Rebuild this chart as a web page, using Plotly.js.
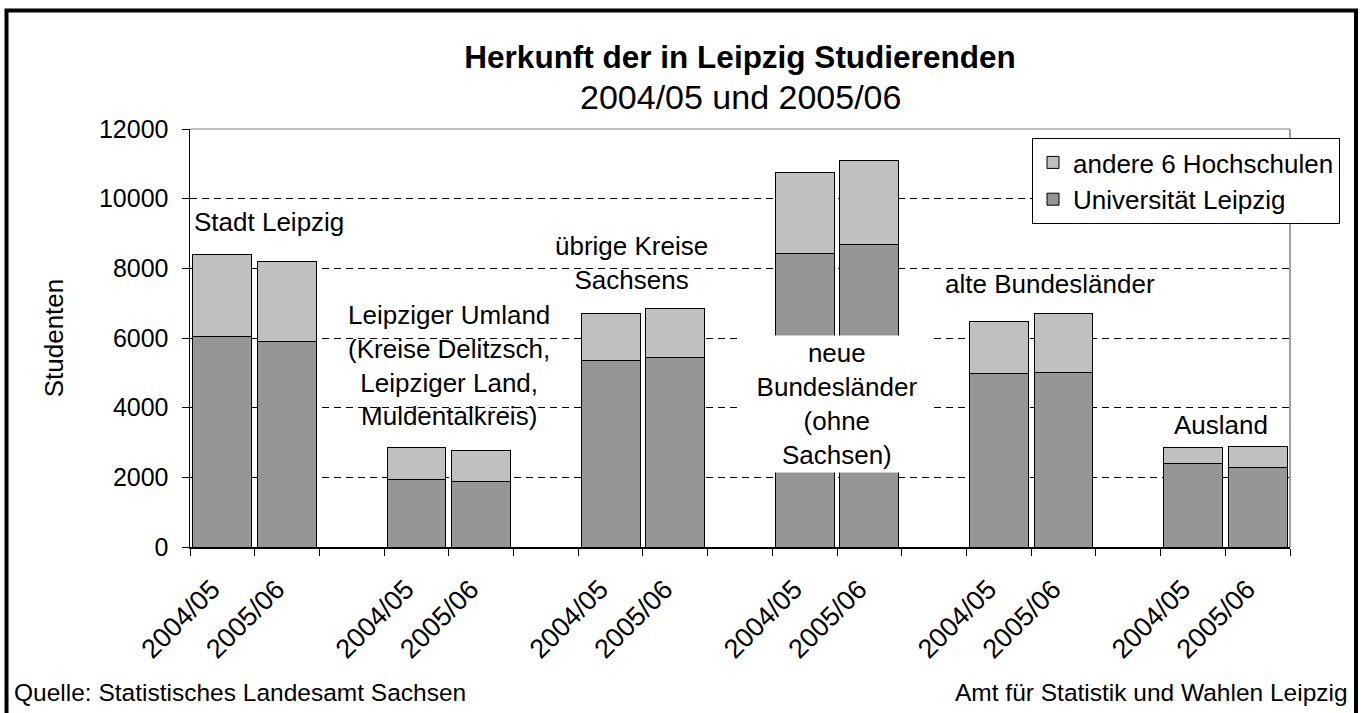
<!DOCTYPE html>
<html>
<head>
<meta charset="utf-8">
<script src="https://cdn.plot.ly/plotly-3.0.1.min.js"></script>
<style>html,body{margin:0;padding:0;background:#fff;}#chart{width:1362px;height:713px;}</style>
</head>
<body>
<div id="chart"></div>
<script>
// ---- data ----
const regions = ["Stadt Leipzig", "Leipziger Umland", "übrige Kreise Sachsens", "neue Bundesländer", "alte Bundesländer", "Ausland"];
const years = ["2004/05", "2005/06"];
const uniLeipzig = [[6050, 5910], [1940, 1870], [5350, 5430], [8430, 8690], [4990, 5010], [2400, 2270]];
const andere = [[2350, 2290], [920, 910], [1360, 1430], [2320, 2410], [1480, 1680], [470, 610]];
const regionLabels = [
  "Stadt Leipzig",
  "Leipziger Umland<br>(Kreise Delitzsch,<br>Leipziger Land,<br>Muldentalkreis)",
  "übrige Kreise<br>Sachsens",
  "neue<br>Bundesländer<br>(ohne<br>Sachsen)",
  "alte Bundesländer",
  "Ausland"
];
const yTicks = [0, 2000, 4000, 6000, 8000, 10000, 12000];
const yTickText = ["0", "2000", "4000", "6000", "8000", "10000", "12000"];

// ---- layout helpers ----
const FONT = "Liberation Sans, Arial, sans-serif";
const slotsPerGroup = years.length + 1;
const nSlots = regions.length * slotsPerGroup - 1;
const xs = [], ticktext = [], uniVals = [], andVals = [];
regions.forEach((r, g) => {
  years.forEach((yr, k) => {
    xs.push(g * slotsPerGroup + k);
    ticktext.push(yr);
    uniVals.push(uniLeipzig[g][k]);
    andVals.push(andere[g][k]);
  });
});
const boundaries = [];
for (let i = 0; i <= nSlots; i++) boundaries.push(i - 0.5);
const labelShift = 0.16; // rotated labels sit slightly left of the bar centre

const traces = [
  {type: "bar", name: "Universität Leipzig", x: xs, y: uniVals, width: 0.91,
   marker: {color: "#969696", line: {color: "#000", width: 1}}, legendgroup: "a", hoverinfo: "y"},
  {type: "bar", name: "andere 6 Hochschulen", x: xs, y: andVals, width: 0.91,
   marker: {color: "#c0c0c0", line: {color: "#000", width: 1}}, legendgroup: "b", hoverinfo: "y"},
  {type: "scatter", x: xs, y: xs.map(() => 0), xaxis: "x2", mode: "none", showlegend: false, hoverinfo: "skip"}
];

const labelPos = [
  {x: -0.47, y: 9330, xa: "left"},
  {x: 3.5, y: 5225, xa: "center"},
  {x: 6.33, y: 8150, xa: "center"},
  {x: 9.5, y: 4105, xa: "center", box: true},
  {x: 12.79, y: 7550, xa: "center"},
  {x: 15.43, y: 3500, xa: "center"}
];
const annotations = regionLabels.map((t, i) => {
  const p = labelPos[i];
  const a = {text: t, x: p.x, y: p.y, xref: "x", yref: "y", xanchor: p.xa, yanchor: "middle",
    showarrow: false, font: {family: FONT, size: 26, color: "#000"}, align: "center"};
  if (p.box) { a.bgcolor = "#fff"; a.width = 190; a.height = 134; a.valign = "middle"; }
  return a;
});
annotations.push(
  {text: "2004/05 und 2005/06", xref: "paper", yref: "paper", x: 0.5, y: (547 - 97) / 418,
   xanchor: "center", yanchor: "middle", showarrow: false, font: {family: FONT, size: 34, color: "#000"}},
  {text: "Quelle: Statistisches Landesamt Sachsen", xref: "paper", yref: "paper",
   x: (12 - 190) / 1100, y: (547 - 692) / 418, xanchor: "left", yanchor: "middle", showarrow: false,
   font: {family: FONT, size: 24.5, color: "#000"}},
  {text: "Amt für Statistik und Wahlen Leipzig", xref: "paper", yref: "paper",
   x: (1350 - 190) / 1100, y: (547 - 692) / 418, xanchor: "right", yanchor: "middle", showarrow: false,
   font: {family: FONT, size: 24.5, color: "#000"}}
);

const layout = {
  width: 1362, height: 713,
  margin: {l: 190, r: 72, t: 129, b: 166},
  paper_bgcolor: "#fff", plot_bgcolor: "#fff",
  font: {family: FONT, size: 26, color: "#000"},
  barmode: "stack",
  title: {text: "<b>Herkunft der in Leipzig Studierenden</b>", font: {family: FONT, size: 31.5, color: "#000"},
    xref: "paper", x: 0.5, xanchor: "center", yref: "container", y: 1 - 57 / 713, yanchor: "middle"},
  xaxis: {range: [-0.5, nSlots - 0.5], tickmode: "array", tickvals: boundaries, showticklabels: false,
    ticks: "outside", ticklen: 7, tickcolor: "#000", tickwidth: 1, showgrid: false, zeroline: false,
    showline: true, linecolor: "#000", linewidth: 1.5, fixedrange: true},
  xaxis2: {overlaying: "x", anchor: "y", side: "bottom", range: [-0.5 + labelShift, nSlots - 0.5 + labelShift],
    tickmode: "array", tickvals: xs, ticktext: ticktext, tickangle: -45, ticks: "", showgrid: false,
    zeroline: false, showline: false, ticklabelstandoff: 20, tickfont: {family: FONT, size: 27, color: "#000"}},
  yaxis: {range: [0, 12000], tickmode: "array", tickvals: yTicks, ticktext: yTickText, ticks: "outside", ticklen: 7,
    tickcolor: "#000", showline: true, linecolor: "#000", linewidth: 1.5, zeroline: false,
    showgrid: true, gridcolor: "#000", gridwidth: 1, griddash: "7px,5px",
    ticklabelstandoff: 8, tickfont: {family: FONT, size: 25, color: "#000"},
    title: {text: "Studenten", font: {family: FONT, size: 26, color: "#000"}, standoff: 28}},
  legend: {x: (1032 - 190) / 1100, y: (547 - 138) / 418, xanchor: "left", yanchor: "top",
    bgcolor: "#fff", bordercolor: "#000", borderwidth: 1, traceorder: "reversed", tracegroupgap: 12,
    font: {family: FONT, size: 26, color: "#000"}},
  shapes: [
    {type: "line", xref: "paper", yref: "paper", x0: 1, x1: 1, y0: 0, y1: 1, line: {color: "#808080", width: 1.5}},
    {type: "line", xref: "paper", yref: "paper", x0: 0, x1: 1, y0: 1, y1: 1, line: {color: "#808080", width: 1}, layer: "below"},
    {type: "rect", xref: "paper", yref: "paper", x0: (6.5 - 190) / 1100, x1: (1356 - 190) / 1100,
     y0: (547 - 730) / 418, y1: (547 - 10.5) / 418, line: {color: "#000", width: 4}}
  ],
  annotations: annotations,
  showlegend: true
};

Plotly.newPlot("chart", traces, layout, {staticPlot: true, displayModeBar: false});
</script>
</body>
</html>
